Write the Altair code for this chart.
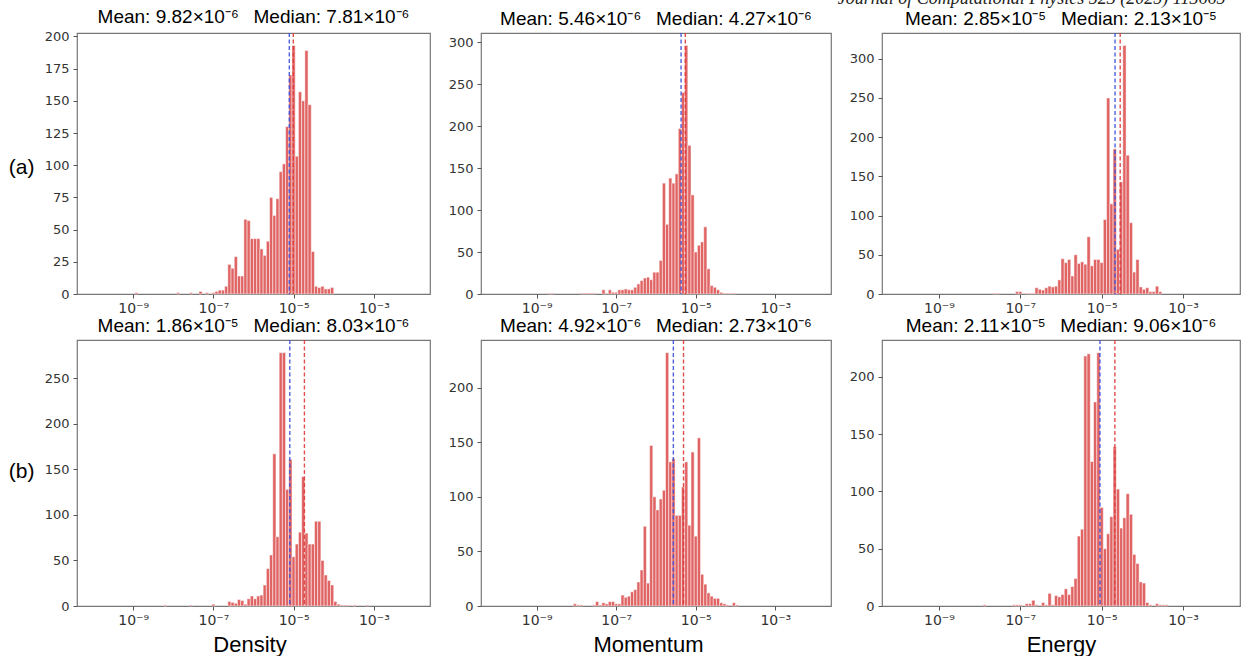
import math
import altair as alt
import pandas as pd

# ---------------- data ----------------
# histogram bins: 100 equal bins in log10 space between 1e-10 and 1e-2
LOG_BIN_MIN = -10.0
LOG_BIN_MAX = -2.0
N_BINS = 100

COLUMN_NAMES = ["Density", "Momentum", "Energy"]
ROW_LABELS = ["(a)", "(b)"]

# counts per bin, listed from a first bin index upward
A_DENSITY_FIRST_BIN = 13
A_DENSITY_COUNTS = [1, 0, 0, 0, 0, 0, 0, 0, 0, 0, 0, 0, 0, 1, 0, 0, 0, 1, 0, 0, 2, 0, 1, 0, 1, 2,
                    3, 3, 6, 23, 20, 29, 14, 14, 58, 57, 43, 43, 43, 35, 30, 41, 75, 61, 74, 95,
                    101, 130, 170, 193, 107, 157, 150, 189, 147, 33, 6, 5, 6, 4, 4, 5]

A_MOMENTUM_FIRST_BIN = 16
A_MOMENTUM_COUNTS = [1, 1, 0, 0, 0, 0, 0, 0, 0, 0, 1, 1, 1, 1, 1, 0, 0, 5, 1, 5, 2, 2,
                     5, 5, 6, 5, 5, 8, 12, 16, 19, 20, 17, 26, 26, 40, 132, 83, 138, 132, 143,
                     197, 240, 296, 177, 118, 50, 58, 62, 80, 30, 10, 8, 5, 2, 1, 1, 1, 1]

A_ENERGY_FIRST_BIN = 29
A_ENERGY_COUNTS = [1, 1, 0, 0, 0, 0, 0, 3, 3, 0, 1, 1, 1,
                   8, 6, 5, 8, 10, 9, 10, 18, 45, 40, 44, 23, 50, 39, 41, 38, 73, 36, 44, 44,
                   40, 95, 250, 115, 185, 57, 143, 317, 177, 91, 28, 44, 9, 6, 8, 3, 3, 10, 3]

B_DENSITY_FIRST_BIN = 22
B_DENSITY_COUNTS = [1, 0, 0, 0, 0, 0, 0, 0, 1, 0, 0, 0, 0, 0, 0, 2, 0, 0, 0, 0,
                    5, 4, 3, 7, 6, 2, 8, 11, 8, 11, 12, 23, 41, 56, 167, 76, 278, 278, 128, 161,
                    54, 68, 81, 142, 80, 68, 68, 93, 93, 50, 34, 28, 23, 5, 2, 1, 1, 1, 0, 1,
                    0, 0, 0, 1]

B_MOMENTUM_FIRST_BIN = 24
B_MOMENTUM_COUNTS = [2, 1, 1, 0, 0, 0, 1, 4, 1, 3, 2, 4, 4, 2, 2, 10, 8, 9, 13, 15,
                     22, 33, 73, 21, 147, 100, 88, 98, 106, 232, 132, 135, 83, 83, 109, 132,
                     74, 141, 64, 154, 29, 20, 12, 9, 7, 7, 3, 2, 1, 0, 3, 1]

B_ENERGY_FIRST_BIN = 26
B_ENERGY_COUNTS = [1, 0, 0, 0, 0, 0, 0, 0, 0, 1, 1, 1, 0, 2, 2, 5, 1, 0, 3, 1,
                   11, 1, 9, 8, 10, 15, 10, 17, 24, 61, 67, 218, 220, 126, 178, 221, 86, 50,
                   63, 78, 139, 102, 68, 77, 98, 80, 45, 37, 21, 20, 3, 1, 0, 2, 1, 1, 1]

FIRST_BINS = [[A_DENSITY_FIRST_BIN, A_MOMENTUM_FIRST_BIN, A_ENERGY_FIRST_BIN],
              [B_DENSITY_FIRST_BIN, B_MOMENTUM_FIRST_BIN, B_ENERGY_FIRST_BIN]]
COUNTS = [[A_DENSITY_COUNTS, A_MOMENTUM_COUNTS, A_ENERGY_COUNTS],
          [B_DENSITY_COUNTS, B_MOMENTUM_COUNTS, B_ENERGY_COUNTS]]

MEANS = [[9.82e-6, 5.46e-6, 2.85e-5], [1.86e-5, 4.92e-6, 2.11e-5]]
MEDIANS = [[7.81e-6, 4.27e-6, 2.13e-5], [8.03e-6, 2.73e-6, 9.06e-6]]
Y_TICK_STEPS = [[25, 50, 50], [50, 50, 50]]
X_TICK_EXPONENTS = [-9, -7, -5, -3]
HEADER = "Journal of Computational Physics 523 (2025) 113665"

# ---------------- styling / layout ----------------
COL_WIDTHS = [353, 350, 358]
ROW_HEIGHTS = [261, 266]
ROW_LABEL_Y = [134, 131]
X_TITLE_SHIFT = [-4, -8, 0]
BAR_FILL = "#e06464"
MEAN_COLOR = "#e03a3a"
MEDIAN_COLOR = "#3d4fd8"

SUP = str.maketrans("-0123456789", "⁻⁰¹²³⁴⁵⁶⁷⁸⁹")


def sci(v):
    e = math.floor(math.log10(v))
    m = v / 10 ** e
    return f"{m:.2f}×10{str(e).translate(SUP)}"


def pow_label(e):
    return "10" + str(e).translate(SUP)


# label expression for the log axis
label_expr = f"'{pow_label(X_TICK_EXPONENTS[-1])}'"
for e in reversed(X_TICK_EXPONENTS[:-1]):
    label_expr = f"datum.value < {10 ** (e + 1):g} ? '{pow_label(e)}' : ({label_expr})"

span = LOG_BIN_MAX - LOG_BIN_MIN
bin_w = span / N_BINS
x_domain = [10 ** (LOG_BIN_MIN - 0.05 * span), 10 ** (LOG_BIN_MAX + 0.05 * span)]


def panel(r, c):
    first = FIRST_BINS[r][c]
    counts = COUNTS[r][c]
    rows = []
    for k, n in enumerate(counts):
        if n <= 0:
            continue
        i = first + k
        rows.append({"lo": 10 ** (LOG_BIN_MIN + i * bin_w),
                     "hi": 10 ** (LOG_BIN_MIN + (i + 1) * bin_w),
                     "base": 0,
                     "count": n})
    df = pd.DataFrame(rows)
    ymax = max(counts) * 1.05
    step = Y_TICK_STEPS[r][c]
    yticks = list(range(0, int(ymax) + 1, step))

    xscale = alt.Scale(type="log", domain=x_domain, nice=False)
    xaxis_kw = dict(values=[10.0 ** e for e in X_TICK_EXPONENTS], labelExpr=label_expr,
                    labelPadding=3, labelFlush=False, labelFontSize=14)
    if r == 1:
        xaxis = alt.Axis(title=COLUMN_NAMES[c], titleFontSize=22, titleY=45,
                         titleX=COL_WIDTHS[c] / 2 + X_TITLE_SHIFT[c],
                         titleBaseline="alphabetic", **xaxis_kw)
    else:
        xaxis = alt.Axis(title=None, **xaxis_kw)

    if c == 0:
        yaxis = alt.Axis(values=yticks, title=ROW_LABELS[r], titleAngle=0, titleAlign="right",
                         titleBaseline="middle", titleX=-43, titleY=ROW_LABEL_Y[r],
                         titleFontSize=21, labelPadding=4)
    else:
        yaxis = alt.Axis(values=yticks, title=None, labelPadding=4)

    bars = alt.Chart(df).mark_bar(fill=BAR_FILL, stroke="#ffffff", strokeWidth=0.7,
                                  strokeOpacity=0.7).encode(
        x=alt.X("lo:Q", scale=xscale, axis=xaxis),
        x2="hi:Q",
        y=alt.Y("count:Q", scale=alt.Scale(domain=[0, ymax], nice=False, zero=True), axis=yaxis),
        y2="base:Q",
    )
    med = alt.Chart(pd.DataFrame({"v": [MEDIANS[r][c]]})).mark_rule(
        color=MEDIAN_COLOR, strokeDash=[4, 2.5], strokeWidth=1.4, opacity=0.9
    ).encode(x=alt.X("v:Q", scale=xscale))
    mean = alt.Chart(pd.DataFrame({"v": [MEANS[r][c]]})).mark_rule(
        color=MEAN_COLOR, strokeDash=[4, 2.5], strokeWidth=1.4, opacity=0.9
    ).encode(x=alt.X("v:Q", scale=xscale))

    title = f"Mean: {sci(MEANS[r][c])}\u2002 Median: {sci(MEDIANS[r][c])}"
    return alt.layer(bars, med, mean).properties(
        width=COL_WIDTHS[c], height=ROW_HEIGHTS[r],
        title=alt.TitleParams(title, fontSize=19, font="Liberation Sans", fontWeight="normal",
                              color="black", offset=3, anchor="middle"),
    )


panels = [panel(r, c) for r in range(2) for c in range(3)]

chart = alt.concat(*panels, columns=3, spacing={"row": 46, "column": 51}, bounds="flush").properties(
    title=alt.TitleParams(HEADER, font="Liberation Serif", fontStyle="italic", fontSize=18,
                          fontWeight="normal", color="#222222", anchor="start", dx=830, offset=0),
    padding={"left": 7, "top": -11, "right": 0, "bottom": 0},
).configure_view(
    stroke="#777777", strokeWidth=1.2
).configure_axis(
    labelFont="DejaVu Sans", labelFontSize=13, labelColor="#333333",
    tickColor="#555555", tickSize=4, domain=False, grid=False,
    titleFont="Liberation Sans", titleFontWeight="normal", titleColor="black",
)

chart.save("out.html", embed_options={"renderer": "svg", "actions": False})
